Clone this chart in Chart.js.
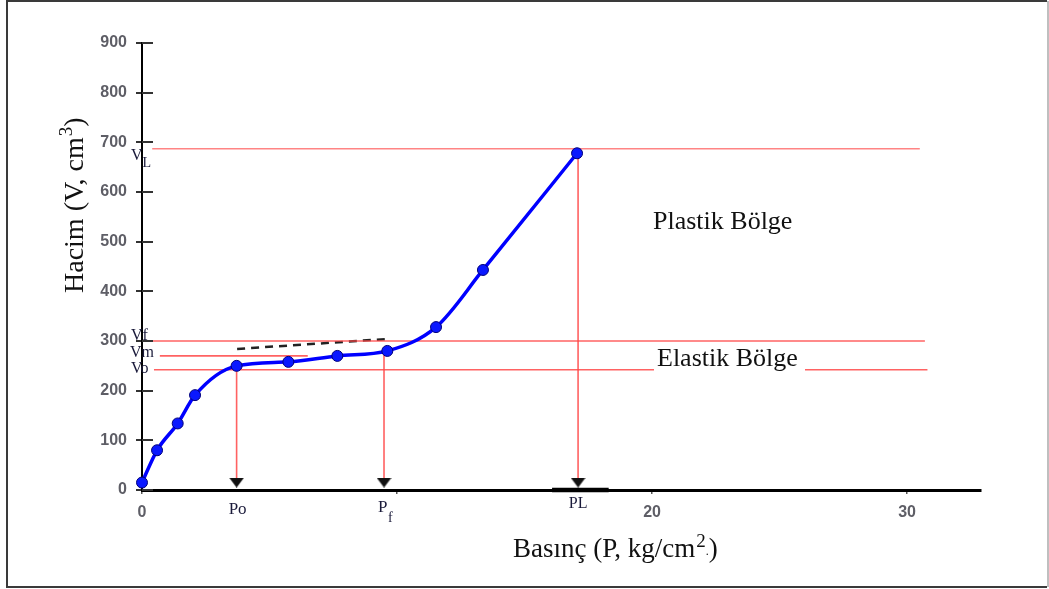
<!DOCTYPE html>
<html><head><meta charset="utf-8">
<script src="https://cdn.jsdelivr.net/npm/chart.js@4.4.1/dist/chart.umd.min.js"></script>
<style>html,body{margin:0;padding:0;background:#fff;overflow:hidden}#wrap{width:1049px;height:589px;position:relative}</style>
</head><body><div id="wrap"><canvas id="c" width="1049" height="589"></canvas></div>
<script>
// ---- data ----
const pressure = [0, 0.59, 1.4, 2.08, 3.71, 5.74, 7.66, 9.62, 11.53, 13.37, 17.06];
const volume   = [15, 80, 134, 191, 250, 258, 270, 280, 328, 443, 678];

const levelNames  = ['VL', 'Vf', 'Vm', 'Vo'];
const levelValues = [687, 300, 270, 242];
const levelStart  = [0.4, 0.2, 0.7, 0.47];
const levelEnd    = [30.5, 30.7, 6.5, 30.8];

const markNames  = ['Po', 'Pf', 'PL'];
const markValues = [3.71, 9.49, 17.1];
const markTops   = [250, 280, 687];
const arrowLevel = 15;

const dashP = [3.73, 9.6];
const dashV = [284, 304];

const plBarP = [16.08, 18.3];
const plBarV = [0, 0];

const yTickValues = [0, 100, 200, 300, 400, 500, 600, 700, 800, 900];
const xTickValues = [0, 10, 20, 30];
const xTickLabels = ['0', '', '20', '30'];

const regionLabels = ['Plastik Bölge', 'Elastik Bölge'];
const xTitle = ['Basınç (P, kg/cm', '2', '.', ')'];
const yTitle = ['Hacim (V, cm', '3', ')'];

// ---- arrow head point style ----
const arrowImg = document.createElement('canvas');
arrowImg.width = 15; arrowImg.height = 10;
(function(){const a = arrowImg.getContext('2d'); a.fillStyle = '#111'; a.beginPath(); a.moveTo(0,0); a.lineTo(15,0); a.lineTo(7.5,10); a.closePath(); a.fill();})();

const RED = 'rgba(255,70,70,0.85)';
const datasets = [];
datasets.push({
  data: pressure.map((p,i)=>({x:p, y:volume[i]})),
  showLine: true, borderColor: '#0000ff', borderWidth: 3.5,
  pointRadius: 5.5, pointBackgroundColor: '#0a18ff', pointBorderColor: '#00007a', pointBorderWidth: 1,
  cubicInterpolationMode: 'monotone', clip: false
});
datasets.push({
  data: markValues.map(p=>({x:p, y:arrowLevel})),
  showLine: false, pointStyle: arrowImg, pointRadius: 7, clip: false
});
markValues.forEach((p,i)=>{
  datasets.push({data:[{x:p,y:markTops[i]},{x:p,y:arrowLevel}], showLine:true, borderColor:RED, borderWidth:1.6, pointRadius:0, clip:false});
});
levelValues.forEach((v,i)=>{
  datasets.push({data:[{x:levelStart[i],y:v},{x:levelEnd[i],y:v}], showLine:true, borderColor: i===0 ? 'rgba(255,110,110,0.85)' : RED, borderWidth:1.6, pointRadius:0, clip:false});
});
datasets.push({data:[{x:dashP[0],y:dashV[0]},{x:dashP[1],y:dashV[1]}], showLine:true, borderColor:'#222', borderWidth:2.5, borderDash:[8,6], pointRadius:0, clip:false});
datasets.push({data:[{x:plBarP[0],y:plBarV[0]},{x:plBarP[1],y:plBarV[1]}], showLine:true, borderColor:'#000', borderWidth:4.5, pointRadius:0, clip:false});

const tickFont = {family:'Liberation Sans', size:16, weight:'bold'};
const TICK_COLOR = '#5e5e66';
const SERIF = '"Liberation Serif", "DejaVu Serif", serif';

const decor = {
  id: 'decor',
  afterDraw(chart){
    const ctx = chart.ctx, xs = chart.scales.x, ys = chart.scales.y;
    ctx.save();
    // inner halves of the y tick marks
    ctx.strokeStyle = '#333'; ctx.lineWidth = 2;
    ys.ticks.forEach(t=>{ const py = Math.round(ys.getPixelForValue(t.value)); ctx.beginPath(); ctx.moveTo(xs.left, py); ctx.lineTo(xs.left+11, py); ctx.stroke(); });
    // frame
    ctx.strokeStyle = '#3a3a3a'; ctx.lineWidth = 2;
    ctx.beginPath(); ctx.moveTo(1047, 1); ctx.lineTo(7, 1); ctx.lineTo(7, 587); ctx.lineTo(1047, 587); ctx.stroke();
    ctx.strokeStyle = '#aaa'; ctx.lineWidth = 1.5;
    ctx.beginPath(); ctx.moveTo(1048, 1); ctx.lineTo(1048, 587); ctx.stroke();

    // level labels
    ctx.fillStyle = '#1a1a3a'; ctx.textBaseline = 'alphabetic'; ctx.textAlign = 'left';
    ctx.font = '16px ' + SERIF;
    const lx = xs.left - 11;
    const ly = levelValues.map(v=>ys.getPixelForValue(v));
    ctx.fillText('V', lx, ly[0] + 11);
    ctx.font = '14px ' + SERIF; ctx.fillText('L', lx + 11.5, ly[0] + 18);
    ctx.font = '16px ' + SERIF;
    ctx.fillText('Vf', lx, ly[1] - 1);
    ctx.fillText('Vm', lx - 1, ly[2] + 1);
    ctx.fillText('Vo', lx, ly[3] + 3);

    // pressure mark labels
    const mx = markValues.map(p=>xs.getPixelForValue(p));
    ctx.textAlign = 'center'; ctx.font = '17px ' + SERIF;
    ctx.fillText('Po', mx[0] + 1, 514);
    ctx.textAlign = 'left';
    ctx.fillText('P', mx[1] - 6, 512);
    ctx.font = '14px ' + SERIF; ctx.fillText('f', mx[1] + 4, 522);
    ctx.textAlign = 'center'; ctx.font = '16px ' + SERIF;
    ctx.fillText('PL', mx[2], 508);

    // region labels
    ctx.textAlign = 'left'; ctx.fillStyle = '#111'; ctx.font = '26px ' + SERIF;
    ctx.fillText(regionLabels[0], 653, 229);
    ctx.fillStyle = '#fff'; ctx.fillRect(654, 344, 151, 32);
    ctx.fillStyle = '#111';
    ctx.fillText(regionLabels[1], 657, 366);

    // x title
    let x = 513; const by = 557;
    ctx.font = '27px ' + SERIF; ctx.fillText(xTitle[0], x, by); x += ctx.measureText(xTitle[0]).width + 1;
    ctx.font = '19px ' + SERIF; ctx.fillText(xTitle[1], x, by - 10); x += ctx.measureText(xTitle[1]).width;
    ctx.font = '12px ' + SERIF; ctx.fillText(xTitle[2], x, by - 2); x += ctx.measureText(xTitle[2]).width;
    ctx.font = '27px ' + SERIF; ctx.fillText(xTitle[3], x, by);

    // y title (rotated)
    ctx.translate(83, 293); ctx.rotate(-Math.PI/2);
    let t = 0;
    ctx.font = '28px ' + SERIF; ctx.fillText(yTitle[0], t, 0); t += ctx.measureText(yTitle[0]).width + 1;
    ctx.font = '19px ' + SERIF; ctx.fillText(yTitle[1], t, -11); t += ctx.measureText(yTitle[1]).width;
    ctx.font = '28px ' + SERIF; ctx.fillText(yTitle[2], t, 0);
    ctx.restore();
  }
};

new Chart(document.getElementById('c'), {
  type: 'scatter',
  data: { datasets },
  options: {
    responsive: false, animation: false, devicePixelRatio: 1,
    layout: { padding: { top: 43, right: 68, left: 0, bottom: 0 } },
    plugins: { legend: { display: false }, tooltip: { enabled: false } },
    scales: {
      x: {
        type: 'linear', min: 0, max: 32.9,
        afterBuildTicks: s => { s.ticks = xTickValues.map(v=>({value:v})); },
        afterFit: s => { s.height = 99; },
        ticks: { callback: v => xTickLabels[xTickValues.indexOf(v)], font: tickFont, color: TICK_COLOR, padding: 9, maxRotation: 0, autoSkip: false },
        grid: { drawOnChartArea: false, tickLength: 4, color: '#555', lineWidth: 1.5 },
        border: { color: '#000', width: 3 }
      },
      y: {
        type: 'linear', min: 0, max: 900,
        afterBuildTicks: s => { s.ticks = yTickValues.map(v=>({value:v})); },
        afterFit: s => { s.width = 142; },
        ticks: { font: tickFont, color: TICK_COLOR, padding: 9 },
        grid: { drawOnChartArea: false, tickLength: 6, color: '#333', lineWidth: 2 },
        border: { color: '#000', width: 2 }
      }
    }
  },
  plugins: [decor]
});
</script></body></html>
